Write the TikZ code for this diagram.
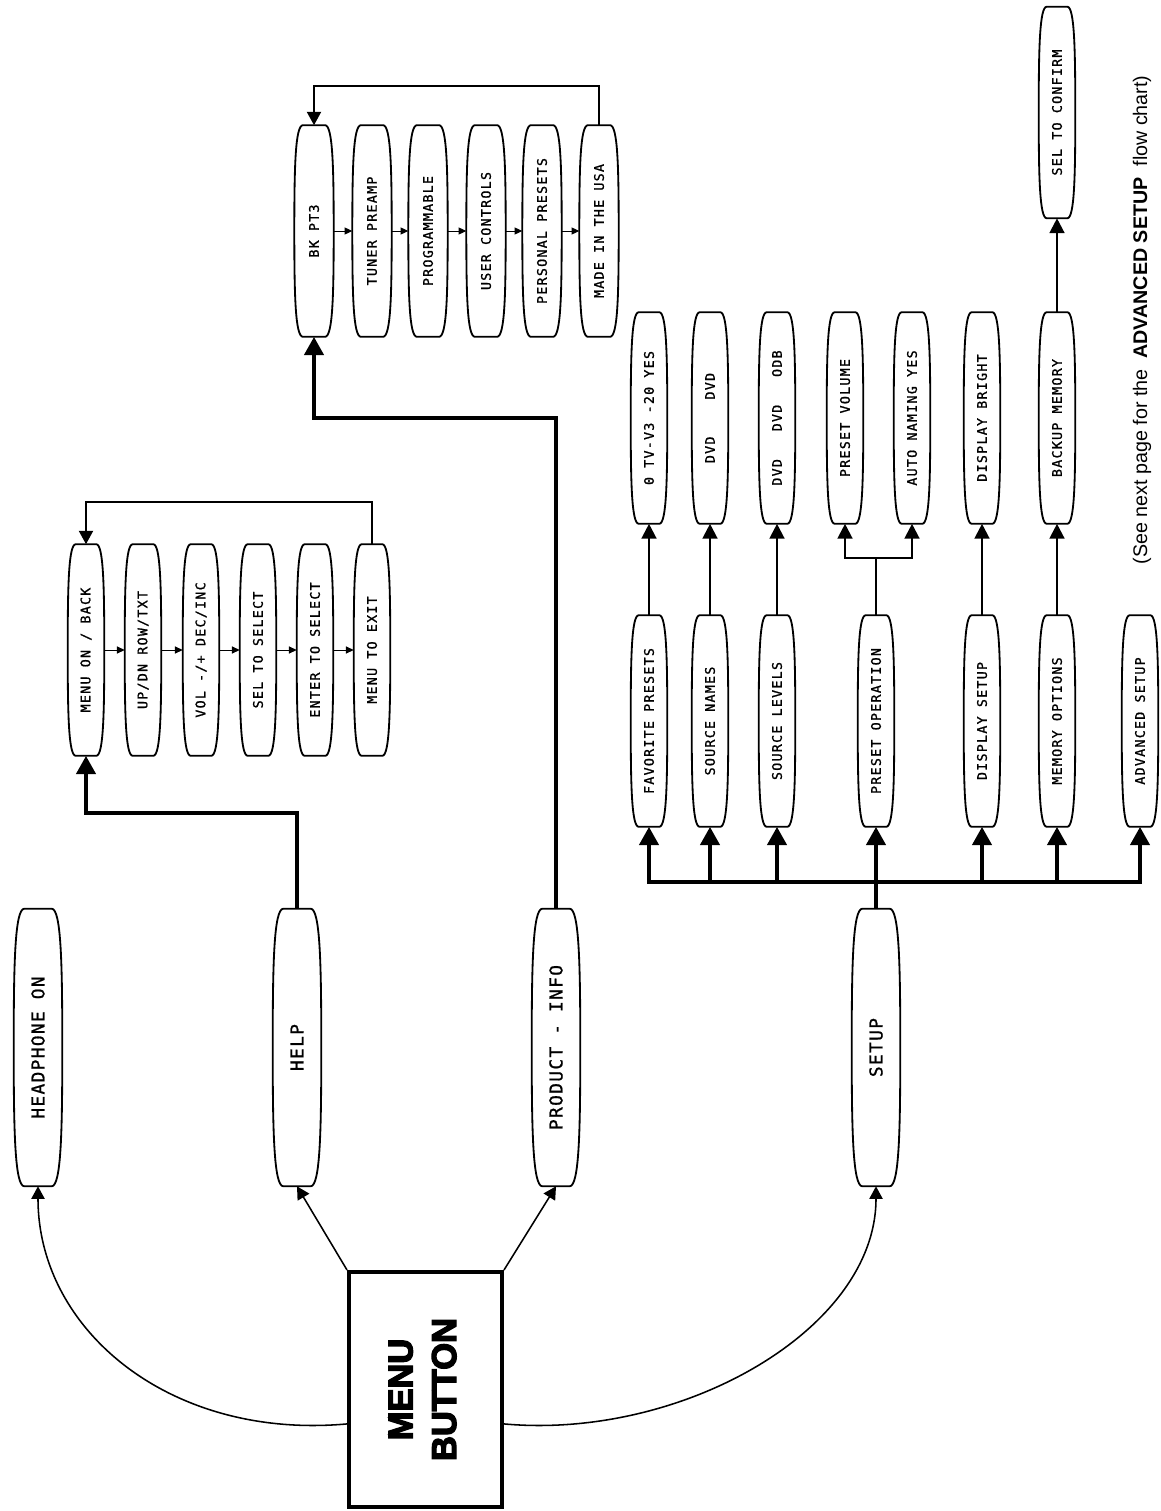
\documentclass[tikz,border=0pt]{standalone}
\usepackage{fontspec}
\usepackage{graphicx}
\setmainfont{Liberation Sans}
\newfontfamily\lcdfont{DejaVu Sans Mono}[LetterSpace=10, FakeBold=1.2]
\newfontfamily\lcdtopfont{DejaVu Sans Mono}[LetterSpace=8, FakeBold=1]
\newfontfamily\menufont{Liberation Sans Bold}[FakeBold=4]
\usetikzlibrary{arrows.meta,calc}

\tikzset{
  pillline/.style={line width=1.3pt},
  toppill/.style={minimum width=1.2cm, minimum height=6.925cm, inner sep=0pt,
    font=\lcdtopfont\fontsize{12.6}{14}\selectfont},
  subpill/.style={minimum width=0.9cm, minimum height=5.275cm, inner sep=0pt,
    font=\lcdfont\fontsize{9.4}{11}\selectfont},
  infopill/.style={subpill, minimum width=0.97cm},
  menubox/.style={draw, line width=2.8pt, minimum width=3.825cm, minimum height=5.875cm,
    inner sep=0pt, font=\menufont\fontsize{24.5}{31}\selectfont},
  thinarrow/.style={line width=0.7pt, -{Triangle[length=5.5pt,width=5pt]}},
  looparrow/.style={line width=1.4pt, -{Triangle[length=9.5pt,width=10pt]}},
  linkarrow/.style={line width=1.6pt, -{Triangle[length=10.5pt,width=10.5pt]}},
  curvearrow/.style={line width=1.1pt, -{Triangle[length=9pt,width=9.5pt]}},
  bigline/.style={line width=3pt},
  bigarrow/.style={bigline, -{Triangle[length=13pt,width=13.5pt]}},
}

\begin{document}
\begin{tikzpicture}[x=0.025cm,y=-0.025cm]
\useasboundingbox (0,0) rectangle (1161,1511);

% menu button and first level
\node[menubox] (menu) at (425.5,1389.5) {\rotatebox{90}{\begin{tabular}{@{}c@{}}MENU\\BUTTON\end{tabular}}};
\node[toppill] (hp) at (38,1047.5) {\rotatebox{90}{HEADPHONE ON}};
\node[toppill] (help) at (297,1047.5) {\rotatebox{90}{HELP}};
\node[toppill] (info) at (556,1047.5) {\rotatebox{90}{PRODUCT - INFO}};
\node[toppill] (setup) at (876,1047.5) {\rotatebox{90}{SETUP}};

% help chain
\node[subpill] (hmenu) at (86,650) {\rotatebox{90}{MENU ON / BACK}};
\node[subpill] (hupdn) at (143,650) {\rotatebox{90}{UP/DN ROW/TXT}};
\node[subpill] (hvol) at (201,650) {\rotatebox{90}{VOL -/+ DEC/INC}};
\node[subpill] (hsel) at (258,650) {\rotatebox{90}{SEL TO SELECT}};
\node[subpill] (henter) at (315,650) {\rotatebox{90}{ENTER TO SELECT}};
\node[subpill] (hexit) at (372,650) {\rotatebox{90}{MENU TO EXIT}};

% product info chain
\node[infopill] (pbk) at (314,231) {\rotatebox{90}{BK PT3}};
\node[infopill] (ptuner) at (372,231) {\rotatebox{90}{TUNER PREAMP}};
\node[infopill] (pprog) at (428,231) {\rotatebox{90}{PROGRAMMABLE}};
\node[infopill] (puser) at (486,231) {\rotatebox{90}{USER CONTROLS}};
\node[infopill] (ppers) at (542,231) {\rotatebox{90}{PERSONAL PRESETS}};
\node[infopill] (pmade) at (599,231) {\rotatebox{90}{MADE IN THE USA}};

% setup, first column
\node[subpill] (sfav) at (649,721) {\rotatebox{90}{FAVORITE PRESETS}};
\node[subpill] (snames) at (710,721) {\rotatebox{90}{SOURCE NAMES}};
\node[subpill] (slevels) at (777,721) {\rotatebox{90}{SOURCE LEVELS}};
\node[subpill] (spreset) at (876,721) {\rotatebox{90}{PRESET OPERATION}};
\node[subpill] (sdisp) at (982,721) {\rotatebox{90}{DISPLAY SETUP}};
\node[subpill] (smem) at (1057,721) {\rotatebox{90}{MEMORY OPTIONS}};
\node[subpill] (sadv) at (1140,721) {\rotatebox{90}{ADVANCED SETUP}};

% setup, second column
\node[subpill] (tv) at (649,418) {\rotatebox{90}{0 TV-V3 -20 YES}};
\node[subpill] (dvdb) at (710,418) {\rotatebox{90}{DVD \ \ \ DVD}};
\node[subpill] (dvdc) at (777,418) {\rotatebox{90}{DVD \ \ DVD \ \ ODB}};
\node[subpill] (pvol) at (845,418) {\rotatebox{90}{PRESET VOLUME}};
\node[subpill] (pauto) at (912,418) {\rotatebox{90}{AUTO NAMING YES}};
\node[subpill] (dbright) at (982,418) {\rotatebox{90}{DISPLAY BRIGHT}};
\node[subpill] (backup) at (1057,418) {\rotatebox{90}{BACKUP MEMORY}};
\node[subpill] (confirm) at (1057,112.5) {\rotatebox{90}{SEL TO CONFIRM}};

\node[rotate=90] (note) at (1142,320) {\fontsize{14}{16}\selectfont (See next page for the\ \ \textbf{ADVANCED SETUP}\ \ flow chart)};

% pill outlines
\foreach \nd in {hp,help,info,setup,hmenu,hupdn,hvol,hsel,henter,hexit,
    pbk,ptuner,pprog,puser,ppers,pmade,sfav,snames,slevels,spreset,sdisp,smem,sadv,
    tv,dvdb,dvdc,pvol,pauto,dbright,backup,confirm}
  \draw[pillline] let \p1=(\nd.north east), \p2=(\nd.south west),
      \n1={0.22*(\x1-\x2)}, \n2={0.3*(\y1-\y2)} in
    ([xshift=\n1]\nd.north west) -- ([xshift=-\n1]\nd.north east)
    .. controls ([xshift=-0.1*\n1]\nd.north east) and ([yshift=\n2]\nd.east) .. (\nd.east)
    .. controls ([yshift=-\n2]\nd.east) and ([xshift=-0.1*\n1]\nd.south east) .. ([xshift=-\n1]\nd.south east)
    -- ([xshift=\n1]\nd.south west)
    .. controls ([xshift=0.1*\n1]\nd.south west) and ([yshift=-\n2]\nd.west) .. (\nd.west)
    .. controls ([yshift=\n2]\nd.west) and ([xshift=0.1*\n1]\nd.north west) .. ([xshift=\n1]\nd.north west) -- cycle;

% menu button to first level
\draw[curvearrow] ([yshift=-0.86cm]menu.west) .. controls (170,1440) and (38,1330) .. (hp.south);
\draw[curvearrow] (menu.north west) -- (help.south);
\draw[curvearrow] (menu.north east) -- (info.south);
\draw[curvearrow] ([yshift=-0.86cm]menu.east) .. controls (681,1440) and (876,1330) .. (setup.south);

% help
\draw[bigarrow] (help.north) -- ++(0,-96) -| (hmenu.south);
\foreach \a/\b in {hmenu/hupdn,hupdn/hvol,hvol/hsel,hsel/henter,henter/hexit}
  \draw[thinarrow] (\a.east) -- (\b.west);
\draw[looparrow] (hexit.north) -- ++(0,-42) -| (hmenu.north);

% product info
\draw[bigarrow] (info.north) -- ++(0,-491) -| (pbk.south);
\foreach \a/\b in {pbk/ptuner,ptuner/pprog,pprog/puser,puser/ppers,ppers/pmade}
  \draw[thinarrow] (\a.east) -- (\b.west);
\draw[looparrow] (pmade.north) -- ++(0,-39) -| (pbk.north);

% setup
\coordinate (bus) at (876,882);
\draw[bigline] (setup.north) -- (bus);
\draw[bigline, line cap=rect] (sfav.south |- bus) -- (sadv.south |- bus);
\foreach \nd in {sfav,snames,slevels,spreset,sdisp,smem,sadv}
  \draw[bigarrow] (\nd.south |- bus) -- (\nd.south);
\foreach \a/\b in {sfav/tv,snames/dvdb,slevels/dvdc,sdisp/dbright,smem/backup,backup/confirm}
  \draw[linkarrow] (\a.north) -- (\b.south);
\draw[line width=1.6pt] (spreset.north) -- ++(0,-57) coordinate (split);
\draw[linkarrow] (split) -| (pvol.south);
\draw[linkarrow] (split) -| (pauto.south);
\end{tikzpicture}
\end{document}
